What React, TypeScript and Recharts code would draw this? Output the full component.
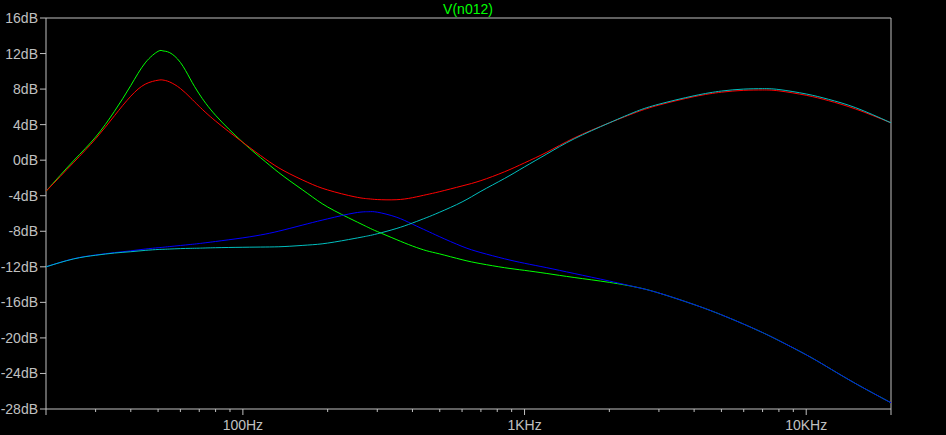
import React from 'react';
import { LineChart, Line, XAxis, YAxis, ReferenceArea } from 'recharts';

// --- data (frequency in Hz, level in dB) ---
const FREQS = [20, 25, 30, 35, 40, 45, 50, 52, 55, 60, 65, 70, 80, 100, 120, 140, 170, 200, 250, 280, 300, 350, 400, 450, 500, 600, 700, 850, 1000, 1200, 1500, 2000, 2500, 3000, 4000, 5000, 6000, 7000, 8000, 10000, 12000, 15000, 20000];

const GREEN_DB = [-3.5, -0.1, 2.6, 5.5, 8.4, 10.95, 12.25, 12.3, 12.1, 11.0, 9.15, 7.45, 5.05, 2.0, -0.15, -1.85, -3.76, -5.27, -6.84, -7.6, -8.03, -8.92, -9.66, -10.2, -10.55, -11.2, -11.65, -12.1, -12.4, -12.75, -13.2, -13.75, -14.3, -14.95, -16.25, -17.4, -18.45, -19.4, -20.3, -21.9, -23.35, -25.15, -27.3];
const RED_DB = [-3.5, -0.3, 2.4, 5.0, 7.2, 8.55, 9.0, 9.02, 8.8, 8.07, 7.06, 6.05, 4.4, 2.0, 0.15, -1.2, -2.5, -3.35, -4.13, -4.35, -4.43, -4.45, -4.22, -3.87, -3.54, -2.9, -2.3, -1.3, -0.3, 0.9, 2.5, 4.2, 5.4, 6.2, 7.15, 7.65, 7.86, 7.9, 7.8, 7.3, 6.7, 5.75, 4.2];
const BLUE_DB = [-12.0, -11.1, -10.67, -10.4, -10.2, -10.0, -9.85, -9.8, -9.72, -9.6, -9.49, -9.38, -9.15, -8.74, -8.32, -7.84, -7.15, -6.6, -5.93, -5.8, -5.85, -6.4, -7.2, -7.95, -8.62, -9.7, -10.4, -11.1, -11.6, -12.1, -12.75, -13.6, -14.3, -14.95, -16.25, -17.4, -18.45, -19.4, -20.3, -21.9, -23.35, -25.15, -27.3];
const CYAN_DB = [-12.0, -11.12, -10.7, -10.45, -10.3, -10.15, -10.05, -10.03, -10.0, -9.95, -9.92, -9.9, -9.85, -9.8, -9.77, -9.72, -9.55, -9.33, -8.8, -8.5, -8.28, -7.7, -7.07, -6.45, -5.85, -4.7, -3.5, -2.05, -0.75, 0.7, 2.4, 4.2, 5.5, 6.3, 7.25, 7.78, 8.0, 8.05, 7.95, 7.45, 6.85, 5.9, 4.2];

const X_TICKS = [20, 30, 40, 50, 60, 70, 80, 90, 100, 200, 300, 400, 500, 600, 700, 800, 900, 1000, 2000, 3000, 4000, 5000, 6000, 7000, 8000, 9000, 10000, 20000];
const X_LABELS: Record<number, string> = { 100: '100Hz', 1000: '1KHz', 10000: '10KHz' };
const Y_TICKS = [-28, -24, -20, -16, -12, -8, -4, 0, 4, 8, 12, 16];

const data = FREQS.map((f, i) => ({
    f,
    green: GREEN_DB[i],
    red: RED_DB[i],
    blue: BLUE_DB[i],
    cyan: CYAN_DB[i],
}));

const AXIS_GREY = '#c0c0c0';
const FONT = '"Liberation Sans", Arial, sans-serif';

const FreqTick = (props: any) => {
    const { x, y, payload } = props;
    const label = X_LABELS[payload.value];
    const major = label || payload.value === 20 || payload.value === 20000;
    return (
        <g>
            <line x1={x} x2={x} y1={y} y2={y + (major ? 6 : 3)} stroke={AXIS_GREY} />
            {label && (
                <text x={x} y={y + 21} textAnchor="middle" fill={AXIS_GREY} fontSize={14} fontFamily={FONT}>
                    {label}
                </text>
            )}
        </g>
    );
};

export default function App() {
    return (
        <div style={{ position: 'absolute', left: 0, top: 0, width: 946, height: 435, background: '#000' }}>
            <div style={{
                position: 'absolute', left: 0, top: 1, width: 936, textAlign: 'center',
                color: '#00ff00', fontFamily: FONT, fontSize: 14, lineHeight: '16px',
            }}>
                V(n012)
            </div>
            <LineChart width={946} height={435} data={data} margin={{ top: 18, right: 55, bottom: 0, left: 0 }}>
                <XAxis
                    dataKey="f"
                    type="number"
                    scale="log"
                    domain={[20, 20000]}
                    allowDataOverflow
                    ticks={X_TICKS}
                    interval={0}
                    height={26}
                    axisLine={false}
                    tickLine={false}
                    tickSize={0}
                    tickMargin={0}
                    tick={<FreqTick />}
                />
                <YAxis
                    type="number"
                    domain={[-28, 16]}
                    ticks={Y_TICKS}
                    interval={0}
                    width={46}
                    axisLine={false}
                    tickSize={6}
                    tickMargin={2}
                    tickLine={{ stroke: AXIS_GREY }}
                    tickFormatter={(v: number) => `${v}dB`}
                    tick={{ fill: AXIS_GREY, fontSize: 14, fontFamily: FONT }}
                />
                <ReferenceArea x1={20} x2={20000} y1={-28} y2={16} fill="none" fillOpacity={0} stroke={AXIS_GREY} strokeWidth={1} />
                <Line type="natural" dataKey="green" stroke="#00ff00" strokeWidth={1} dot={false} isAnimationActive={false} />
                <Line type="natural" dataKey="red" stroke="#ff0000" strokeWidth={1} dot={false} isAnimationActive={false} />
                <Line type="natural" dataKey="blue" stroke="#0000ff" strokeWidth={1} dot={false} isAnimationActive={false} />
                <Line type="natural" dataKey="cyan" stroke="#00bfbf" strokeWidth={1} dot={false} isAnimationActive={false} />
            </LineChart>
        </div>
    );
}
